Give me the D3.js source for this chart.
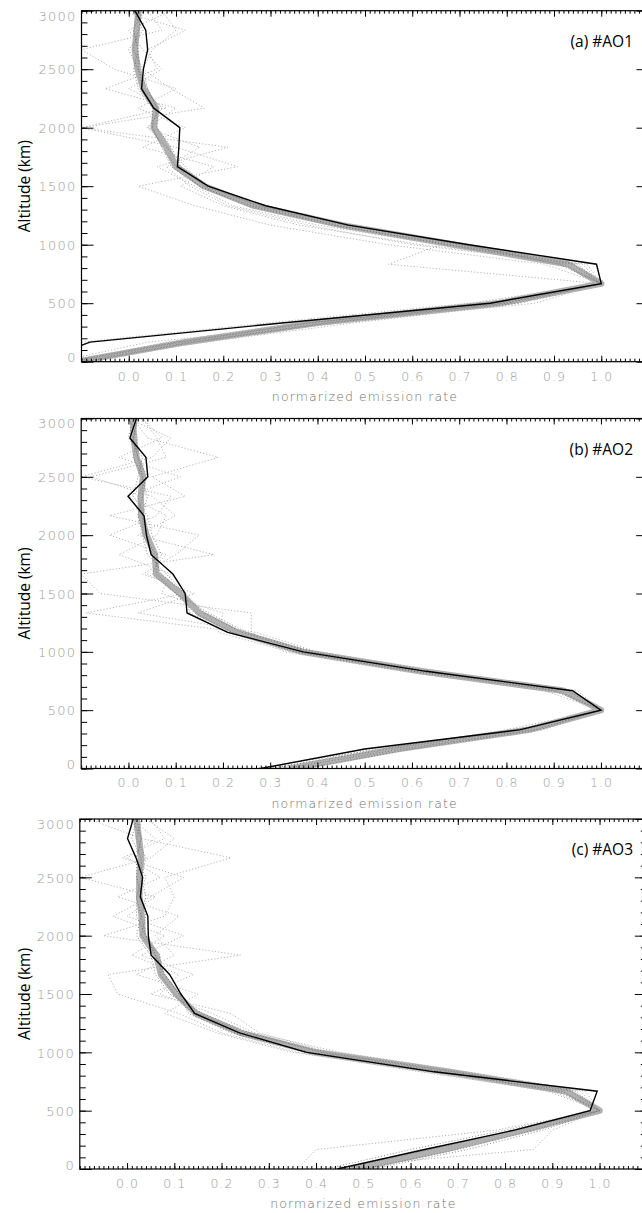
<!DOCTYPE html>
<html>
<head>
<meta charset="utf-8">
<script src="https://cdn.jsdelivr.net/npm/d3@7"></script>
<style>
  body { margin: 0; background: #fff; }
  svg { display: block; }
</style>
</head>
<body>
<svg id="chart" width="642" height="1213"></svg>
<script>
// Altitude grid of every retrieved profile (km)
const altitudes = [0, 167, 333, 500, 667, 833, 1000, 1167, 1333, 1500, 1667, 1833, 2000, 2167, 2333, 2500, 2667, 2833, 3000];

const panelLabels = ["(a) #AO1", "(b) #AO2", "(c) #AO3"];
const xTicks = [0.0, 0.1, 0.2, 0.3, 0.4, 0.5, 0.6, 0.7, 0.8, 0.9, 1.0];
const yTicks = [0, 500, 1000, 1500, 2000, 2500, 3000];

// ---- #AO1 ----
const fitAO1  = [-0.19, -0.082, 0.33, 0.765, 1.0, 0.99, 0.72, 0.465, 0.29, 0.168, 0.103, 0.106, 0.108, 0.053, 0.027, 0.031, 0.04, 0.036, 0.013];
const meanAO1 = [-0.11, 0.12, 0.40, 0.785, 1.0, 0.93, 0.69, 0.45, 0.265, 0.16, 0.10, 0.08, 0.053, 0.058, 0.031, 0.019, 0.013, 0.017, 0.02];
const membersAO1 = [
  [-0.13, 0.10, 0.38, 0.80, 1.0, 0.95, 0.70, 0.46, 0.27, 0.17, 0.11, 0.09, 0.06, 0.06, 0.04, 0.03, 0.01, 0.02, 0.03],
  [-0.09, 0.14, 0.43, 0.82, 1.0, 0.92, 0.67, 0.44, 0.26, 0.15, 0.10, 0.07, 0.05, 0.05, 0.02, 0.01, 0.02, 0.01, 0.02],
  [-0.12, 0.11, 0.39, 0.76, 1.0, 0.91, 0.71, 0.47, 0.28, 0.16, 0.12, 0.08, 0.04, 0.07, 0.03, 0.02, 0.00, 0.03, 0.01],
  [-0.10, 0.13, 0.42, 0.79, 1.0, 0.94, 0.68, 0.43, 0.25, 0.15, 0.09, 0.07, 0.05, 0.06, 0.04, 0.02, 0.02, 0.01, 0.03]
];
const straysAO1 = [
  [-0.20, -0.10, 0.30, 0.72, 1.0, 0.55, 0.66, 0.40, 0.22, 0.14, 0.06, 0.21, -0.10, 0.16, 0.09, 0.03, 0.05, 0.10, 0.07],
  [-0.15, 0.04, 0.45, 0.86, 1.0, 0.97, 0.62, 0.36, 0.20, 0.11, 0.18, 0.03, 0.12, 0.02, 0.10, -0.03, -0.10, 0.07, 0.04],
  [-0.12, 0.08, 0.36, 0.74, 1.0, 0.88, 0.55, 0.30, 0.14, 0.02, 0.23, 0.10, -0.10, 0.08, 0.00, 0.07, 0.03, 0.00, 0.09],
  [-0.11, 0.16, 0.48, 0.83, 1.0, 0.96, 0.60, 0.38, 0.21, 0.13, 0.08, 0.15, 0.04, 0.10, -0.05, 0.06, 0.04, 0.12, -0.02]
];

// ---- #AO2 ----
const fitAO2  = [0.28, 0.50, 0.83, 1.0, 0.94, 0.63, 0.37, 0.21, 0.124, 0.12, 0.094, 0.048, 0.038, 0.033, -0.001, 0.041, 0.037, 0.003, 0.017];
const meanAO2 = [0.345, 0.57, 0.85, 1.0, 0.92, 0.62, 0.37, 0.23, 0.15, 0.11, 0.059, 0.056, 0.038, 0.027, 0.026, 0.031, 0.017, 0.011, 0.01];
const membersAO2 = [
  [0.30, 0.55, 0.84, 1.0, 0.93, 0.64, 0.38, 0.24, 0.16, 0.12, 0.07, 0.05, 0.04, 0.03, 0.02, 0.04, 0.02, 0.01, 0.02],
  [0.37, 0.60, 0.87, 1.0, 0.90, 0.60, 0.35, 0.22, 0.14, 0.10, 0.06, 0.06, 0.03, 0.02, 0.03, 0.03, 0.01, 0.02, 0.00],
  [0.33, 0.58, 0.86, 1.0, 0.91, 0.63, 0.39, 0.25, 0.17, 0.10, 0.05, 0.07, 0.05, 0.04, 0.01, 0.02, 0.03, 0.00, 0.01],
  [0.27, 0.53, 0.82, 1.0, 0.94, 0.61, 0.36, 0.21, 0.13, 0.12, 0.08, 0.04, 0.03, 0.03, 0.04, 0.03, 0.02, 0.01, 0.02]
];
const straysAO2 = [
  [0.32, 0.54, 0.80, 1.0, 0.88, 0.58, 0.33, 0.26, 0.26, -0.06, -0.10, 0.18, 0.02, 0.10, 0.05, -0.08, 0.08, 0.06, 0.03],
  [0.35, 0.59, 0.88, 1.0, 0.95, 0.66, 0.40, 0.27, 0.02, 0.14, 0.03, 0.10, 0.15, -0.04, 0.12, 0.05, 0.19, 0.04, 0.01],
  [0.29, 0.56, 0.83, 1.0, 0.90, 0.60, 0.34, 0.19, 0.20, 0.07, 0.09, -0.02, 0.06, 0.08, 0.00, 0.11, -0.02, 0.07, 0.03],
  [0.31, 0.52, 0.85, 1.0, 0.93, 0.63, 0.38, 0.24, -0.09, 0.12, 0.04, 0.08, -0.04, 0.06, 0.09, -0.10, 0.05, 0.09, 0.00]
];

// ---- #AO3 ----
const fitAO3  = [0.445, 0.63, 0.82, 0.98, 0.995, 0.65, 0.38, 0.238, 0.143, 0.114, 0.09, 0.051, 0.045, 0.044, 0.028, 0.033, 0.019, 0.001, 0.013];
const meanAO3 = [0.48, 0.67, 0.84, 1.0, 0.93, 0.68, 0.40, 0.24, 0.146, 0.104, 0.072, 0.062, 0.033, 0.031, 0.026, 0.026, 0.03, 0.025, 0.02];
const membersAO3 = [
  [0.45, 0.64, 0.82, 1.0, 0.95, 0.70, 0.42, 0.25, 0.15, 0.11, 0.08, 0.06, 0.04, 0.03, 0.02, 0.03, 0.04, 0.02, 0.03],
  [0.50, 0.70, 0.86, 1.0, 0.91, 0.66, 0.38, 0.23, 0.14, 0.10, 0.07, 0.07, 0.03, 0.04, 0.03, 0.02, 0.02, 0.03, 0.01],
  [0.42, 0.60, 0.80, 1.0, 0.94, 0.69, 0.41, 0.26, 0.16, 0.09, 0.06, 0.05, 0.02, 0.03, 0.04, 0.03, 0.03, 0.01, 0.02],
  [0.52, 0.72, 0.88, 1.0, 0.92, 0.67, 0.39, 0.22, 0.13, 0.11, 0.08, 0.06, 0.04, 0.02, 0.02, 0.04, 0.02, 0.03, 0.02]
];
const straysAO3 = [
  [0.36, 0.40, 0.78, 1.0, 0.90, 0.62, 0.36, 0.20, 0.11, -0.02, -0.04, 0.24, -0.05, 0.08, 0.10, 0.08, 0.22, 0.03, -0.08],
  [0.40, 0.86, 0.90, 1.0, 0.96, 0.71, 0.43, 0.28, 0.22, 0.05, 0.14, 0.03, 0.12, 0.00, 0.06, -0.10, 0.05, 0.10, 0.04],
  [0.47, 0.62, 0.87, 1.0, 0.89, 0.63, 0.35, 0.19, 0.08, 0.15, 0.02, 0.10, 0.06, 0.11, -0.02, 0.07, 0.00, 0.06, 0.01],
  [0.44, 0.66, 0.83, 1.0, 0.97, 0.72, 0.45, 0.27, 0.18, 0.07, 0.11, 0.01, 0.08, -0.03, 0.05, 0.12, -0.01, 0.08, 0.05]
];

// Layout of the three stacked panels
const panels = [
  { label: panelLabels[0], fit: fitAO1, mean: meanAO1, members: membersAO1, strays: straysAO1, left: 81.5, top: 10.7, height: 351 },
  { label: panelLabels[1], fit: fitAO2, mean: meanAO2, members: membersAO2, strays: straysAO2, left: 81.2, top: 418.5, height: 350 },
  { label: panelLabels[2], fit: fitAO3, mean: meanAO3, members: membersAO3, strays: straysAO3, left: 79.8, top: 819, height: 350 }
];
const plotWidth = 567;

const svg = d3.select("#chart");
const tickFont = "'DejaVu Sans', sans-serif";
const labelFont = "'Open Sans', 'Noto Sans', sans-serif";

// minor tick positions (every 0.01 on x, every 100 km on y)
const minorX = d3.range(-10, 111).map(v => v / 100);
const minorY = d3.range(0, 3001, 100);

panels.forEach((p, i) => {
  const x = d3.scaleLinear().domain([-0.1, 1.1]).range([p.left, p.left + plotWidth]);
  const y = d3.scaleLinear().domain([0, 3000]).range([p.top + p.height, p.top]);
  const g = svg.append("g");

  const clipId = "clip" + i;
  g.append("clipPath").attr("id", clipId)
    .append("rect")
    .attr("x", x(-0.1)).attr("y", y(3000))
    .attr("width", x(1.1) - x(-0.1)).attr("height", y(0) - y(3000));

  const line = d3.line()
    .x(d => x(d[0]))
    .y(d => y(d[1]));
  const profile = vals => vals.map((v, k) => [v, altitudes[k]]);

  const marks = g.append("g").attr("clip-path", `url(#${clipId})`);

  // individual noisy profiles
  marks.selectAll(".stray").data(p.strays).join("path")
    .attr("d", d => line(profile(d)))
    .attr("fill", "none")
    .attr("stroke", "#b4b4b4")
    .attr("stroke-width", 1)
    .attr("stroke-dasharray", "1.2,2");

  // mean profile (thick gray band)
  marks.append("path")
    .attr("d", line(profile(p.mean)))
    .attr("fill", "none")
    .attr("stroke", "#b0b0b0")
    .attr("stroke-width", 6.5)
    .attr("stroke-linejoin", "round")
    .attr("stroke-linecap", "round");

  // profiles close to the mean
  marks.selectAll(".member").data(p.members).join("path")
    .attr("d", d => line(profile(d)))
    .attr("fill", "none")
    .attr("stroke", "#707070")
    .attr("stroke-width", 0.8)
    .attr("stroke-dasharray", "1,2");

  // model profile
  marks.append("path")
    .attr("d", line(profile(p.fit)))
    .attr("fill", "none")
    .attr("stroke", "#000")
    .attr("stroke-width", 1.4)
    .attr("stroke-linejoin", "miter");

  // ---- axes ----
  const fmtX = d3.format(".1f");

  const styleAxis = sel => {
    sel.select(".domain").remove();
    sel.selectAll(".tick line").attr("stroke", "#000").attr("stroke-width", 1);
  };

  g.append("g").attr("transform", `translate(0,${y(0)})`)
    .call(d3.axisBottom(x).tickValues(minorX).tickSize(-3).tickFormat(""))
    .call(styleAxis);
  const xb = g.append("g").attr("transform", `translate(0,${y(0)})`)
    .call(d3.axisBottom(x).tickValues(xTicks).tickSize(-6).tickPadding(10).tickFormat(fmtX))
    .call(styleAxis);
  xb.selectAll("text")
    .attr("fill", "#9c9c9c")
    .attr("font-family", tickFont)
    .attr("font-weight", 200)
    .attr("font-size", 12.5)
    .attr("letter-spacing", 1);

  g.append("g").attr("transform", `translate(0,${y(3000)})`)
    .call(d3.axisTop(x).tickValues(minorX).tickSize(-3).tickFormat(""))
    .call(styleAxis);
  g.append("g").attr("transform", `translate(0,${y(3000)})`)
    .call(d3.axisTop(x).tickValues(xTicks).tickSize(-6).tickFormat(""))
    .call(styleAxis);

  g.append("g").attr("transform", `translate(${x(-0.1)},0)`)
    .call(d3.axisLeft(y).tickValues(minorY).tickSize(-6).tickFormat(""))
    .call(styleAxis);
  const yl = g.append("g").attr("transform", `translate(${x(-0.1)},0)`)
    .call(d3.axisLeft(y).tickValues(yTicks).tickSize(-12).tickPadding(4.8).tickFormat(d3.format("d")))
    .call(styleAxis);
  yl.selectAll("text")
    .attr("fill", "#9c9c9c")
    .attr("font-family", tickFont)
    .attr("font-weight", 200)
    .attr("font-size", 13)
    .attr("letter-spacing", 1.3)
    .attr("dy", d => d === 3000 ? "0.72em" : d === 0 ? "0.0em" : "0.36em");

  g.append("g").attr("transform", `translate(${x(1.1)},0)`)
    .call(d3.axisRight(y).tickValues(minorY).tickSize(-6).tickFormat(""))
    .call(styleAxis);
  g.append("g").attr("transform", `translate(${x(1.1)},0)`)
    .call(d3.axisRight(y).tickValues(yTicks).tickSize(-12).tickFormat(""))
    .call(styleAxis);

  // frame
  g.append("rect")
    .attr("x", x(-0.1)).attr("y", y(3000))
    .attr("width", x(1.1) - x(-0.1)).attr("height", y(0) - y(3000))
    .attr("fill", "none").attr("stroke", "#000").attr("stroke-width", 1.2);

  // titles
  g.append("text")
    .attr("x", (x(-0.1) + x(1.1)) / 2)
    .attr("y", y(0) + 39)
    .attr("text-anchor", "middle")
    .attr("fill", "#707070")
    .attr("font-family", tickFont)
    .attr("font-weight", 200)
    .attr("font-size", 12.5)
    .attr("letter-spacing", 1.1)
    .text("normarized emission rate");

  g.append("text")
    .attr("transform", `translate(30,${(y(0) + y(3000)) / 2}) rotate(-90)`)
    .attr("text-anchor", "middle")
    .attr("fill", "#000")
    .attr("font-family", labelFont)
    .attr("font-size", 15.5)
    .text("Altitude (km)");

  g.append("text")
    .attr("x", 633)
    .attr("y", y(3000) + 36)
    .attr("text-anchor", "end")
    .attr("fill", "#000")
    .attr("font-family", labelFont)
    .attr("font-size", 15.5)
    .text(p.label);
});
</script>
</body>
</html>
